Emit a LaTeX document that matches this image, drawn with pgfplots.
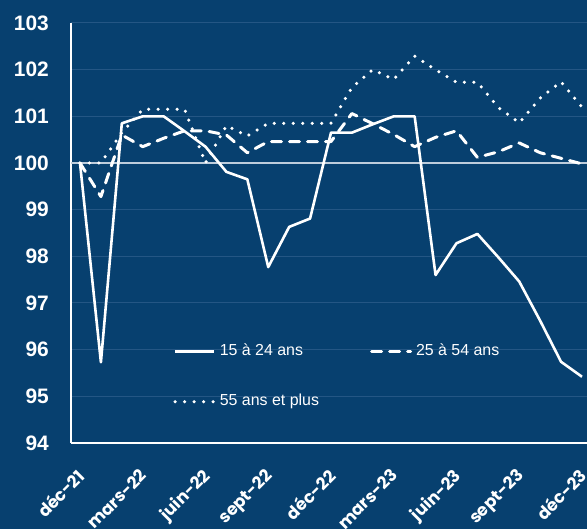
\documentclass[border=0pt]{standalone}
\usepackage{pgfplots}
\pgfplotsset{compat=1.18}
\usepackage{fontspec}
\setmainfont{Liberation Sans}
\newfontfamily\xfont{Poppins}
\definecolor{bg}{RGB}{7,64,111}
\definecolor{gridc}{RGB}{36,86,132}
\definecolor{zeroc}{RGB}{190,205,220}
\begin{document}
\begin{tikzpicture}
\fill[bg] (0bp,0bp) rectangle (587bp,529bp);
\useasboundingbox (0bp,0bp) rectangle (587bp,529bp);
\begin{axis}[
  at={(71bp,86bp)}, anchor=south west,
  scale only axis, width=516bp, height=420bp,
  xmin=-0.43, xmax=24.24, ymin=94, ymax=103,
  axis x line*=bottom, axis y line*=left,
  axis line style={white, line width=2bp},
  major tick length=0pt,
  /pgf/number format/assume math mode=true,
  ytick={94,...,103},
  xtick={0,3,...,24},
  xticklabels={déc-21,mars-22,juin-22,sept-22,déc-22,mars-23,juin-23,sept-23,déc-23},
  ymajorgrids, grid style={gridc, line width=1bp},
  extra y ticks={100}, extra y tick labels={},
  extra y tick style={grid style={zeroc, line width=1.3bp}},
  yticklabel style={white, font=\fontsize{21}{21}\selectfont\bfseries, anchor=east, inner sep=0pt, xshift=-22bp},
  xticklabel style={white, font=\xfont\fontsize{17}{17}\selectfont\bfseries, rotate=45, anchor=north east, inner sep=0pt, xshift=-20bp, yshift=-14.5bp},
  legend columns=2,
  legend cell align=left,
  legend image code/.code={\draw[#1] (0bp,0bp) -- (39bp,0bp);},
  legend style={at={(axis cs:4.45,95.42)}, anchor=west, draw=none, fill=none, text=white,
    font=\fontsize{16}{16}\selectfont, inner sep=0pt,
    nodes={inner sep=0pt, text height=12bp, text depth=4bp},
    column sep=4bp, row sep=34bp,
    /tikz/every even column/.append style={column sep=51bp}},
]
\addplot[white, line width=2.6bp, line join=round] coordinates {
(0,100) (1,95.73) (2,100.85) (3,101.0) (4,101.0) (5,100.68) (6,100.35) (7,99.81) (8,99.65) (9,97.77) (10,98.63) (11,98.81) (12,100.65) (13,100.65) (14,100.83) (15,101.0) (16,101.0) (17,97.6) (18,98.28) (19,98.48) (20,97.98) (21,97.46) (22,96.62) (23,95.74) (24,95.42)};
\addlegendentry{15 à 24 ans}
\addplot[white, line width=3bp, line cap=round, line join=round, dash pattern=on 10bp off 8bp] coordinates {
(0,100) (1,99.28) (2,100.6) (3,100.35) (4,100.53) (5,100.69) (6,100.69) (7,100.6) (8,100.22) (9,100.46) (10,100.46) (11,100.46) (12,100.46) (13,101.06) (14,100.84) (15,100.61) (16,100.35) (17,100.55) (18,100.69) (19,100.12) (20,100.24) (21,100.43) (22,100.22) (23,100.1) (24,99.98)};
\addlegendentry{25 à 54 ans}
\addplot[white, line width=3.5bp, line cap=round, dash pattern=on 0bp off 9.5bp] coordinates {
(0,100) (1,100) (2,100.65) (3,101.15) (4,101.15) (5,101.15) (6,100.0) (7,100.8) (8,100.58) (9,100.85) (10,100.85) (11,100.85) (12,100.85) (13,101.62) (14,102.0) (15,101.79) (16,102.29) (17,102.0) (18,101.73) (19,101.73) (20,101.19) (21,100.86) (22,101.39) (23,101.74) (24,101.2)};
\addlegendentry{55 ans et plus}
\end{axis}
\end{tikzpicture}
\end{document}
